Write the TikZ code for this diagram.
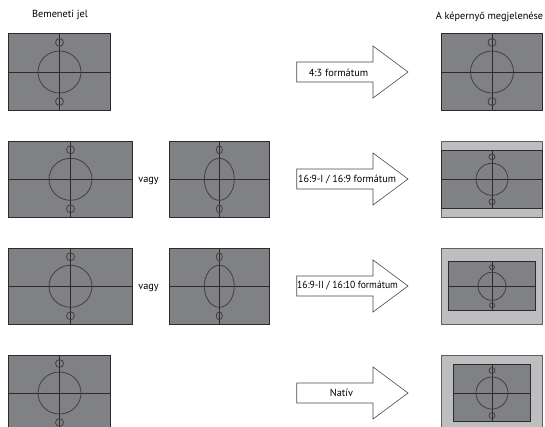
\documentclass[tikz,border=0pt]{standalone}
\usepackage{graphicx}
\usepackage{fontspec}
\setmainfont{PT Sans}
\definecolor{scr}{HTML}{808184}
\definecolor{bar}{HTML}{BCBEC0}
\definecolor{ink}{HTML}{2E2A2B}
\tikzset{
  screenfill/.style={fill=scr,draw=ink,line width=0.7pt},
  framefill/.style={fill=bar,draw=ink!75,line width=0.8pt},
  crossline/.style={draw=ink,line width=0.7pt},
  ringline/.style={draw=ink!90,line width=0.8pt},
  bigarrow/.style={fill=white,draw=ink!85,line width=0.6pt,line join=miter},
  lab/.style={font=\fontsize{10.3}{12}\selectfont,text=black,inner sep=0pt}
}
\newcommand{\screenpic}[8]{%
  \begin{scope}
  \draw[screenfill] (#1,#3) rectangle (#2,#4);
  \draw[crossline] (#1,#6) -- (#2,#6);
  \draw[crossline] (#5,#3) -- (#5,#4);
  \draw[ringline] (#5,#6) ellipse [x radius=#7,y radius=#8];
  \end{scope}}
\newcommand{\smallrings}[5]{%
  \draw[ringline] (#1,#2-#5) ellipse [x radius=#3,y radius=#4];
  \draw[ringline] (#1,#2+#5) ellipse [x radius=#3,y radius=#4];}
\newcommand{\arrowpic}[2]{%
  \draw[bigarrow] (296.7,#1-10) -- (373,#1-10) -- (373,#1-26) -- (408,#1)
    -- (373,#1+26) -- (373,#1+10) -- (296.7,#1+10) -- cycle;}
\begin{document}
\begin{tikzpicture}[x=1pt,y=-1pt]
\useasboundingbox (0,0) rectangle (545,427);
\clip (0,0) rectangle (545,427);
\node[lab] (inlabel) at (60,14.5) {Bemeneti jel};
\node[lab] (outlabel) at (489.5,16.5) {A képernyő megjelenése};
% left column
\screenpic{8.5}{110}{33.5}{110}{59.5}{72}{21.5}{21}\smallrings{59.5}{72}{4}{4}{29.5}
\screenpic{8.5}{132}{141}{217}{70.5}{179.3}{21.5}{21}\smallrings{70.5}{179.3}{4}{4}{29.5}
\screenpic{169.5}{269}{141}{217}{219.3}{179.3}{15}{21}\smallrings{219.3}{179.3}{3}{4}{29.5}
\node[lab] (or1) at (148.5,180.5) {vagy};
\screenpic{8.5}{132}{248}{324.5}{70.5}{286.3}{21.5}{21}\smallrings{70.5}{286.3}{4}{4}{29.5}
\screenpic{169.5}{269}{248}{324.5}{219.3}{286.3}{15}{21}\smallrings{219.3}{286.3}{3}{4}{29.5}
\node[lab] (or2) at (148.5,287.5) {vagy};
\screenpic{8.5}{110}{355}{432}{59.5}{393}{21.5}{21}\smallrings{59.5}{393}{4}{4}{29.5}
% arrows
\arrowpic{72}{}
\node[lab] (a1) at (338.5,73) {4:3 formátum};
\arrowpic{179}{}
\node[lab] (a2) at (347,179.5) {\scalebox{.98}[1]{16:9-I / 16:9 formátum}};
\arrowpic{286}{}
\node[lab] (a3) at (347.5,286) {\scalebox{.93}[1]{16:9-II / 16:10 formátum}};
\arrowpic{393}{}
\node[lab] (a4) at (341.5,392.5) {Natív};
% right column
\screenpic{441}{542}{33.5}{110}{492}{72}{21.5}{21}\smallrings{492}{72}{4}{4}{29.5}
\draw[framefill] (441,141.5) rectangle (542,217);
\screenpic{441}{542}{150}{208.8}{492}{179.3}{16}{16}\smallrings{492}{179.3}{3}{3}{22.5}
\draw[framefill] (441,248) rectangle (542,324.5);
\screenpic{448.3}{535.7}{261.7}{310.3}{492}{286.3}{14}{14}\smallrings{492}{286.3}{2.5}{2.5}{19}
\draw[framefill] (441,355) rectangle (542,432);
\screenpic{453.3}{530.3}{364.3}{421.7}{492}{393}{16}{16}\smallrings{492}{393}{3}{3}{22.5}
\end{tikzpicture}
\end{document}
